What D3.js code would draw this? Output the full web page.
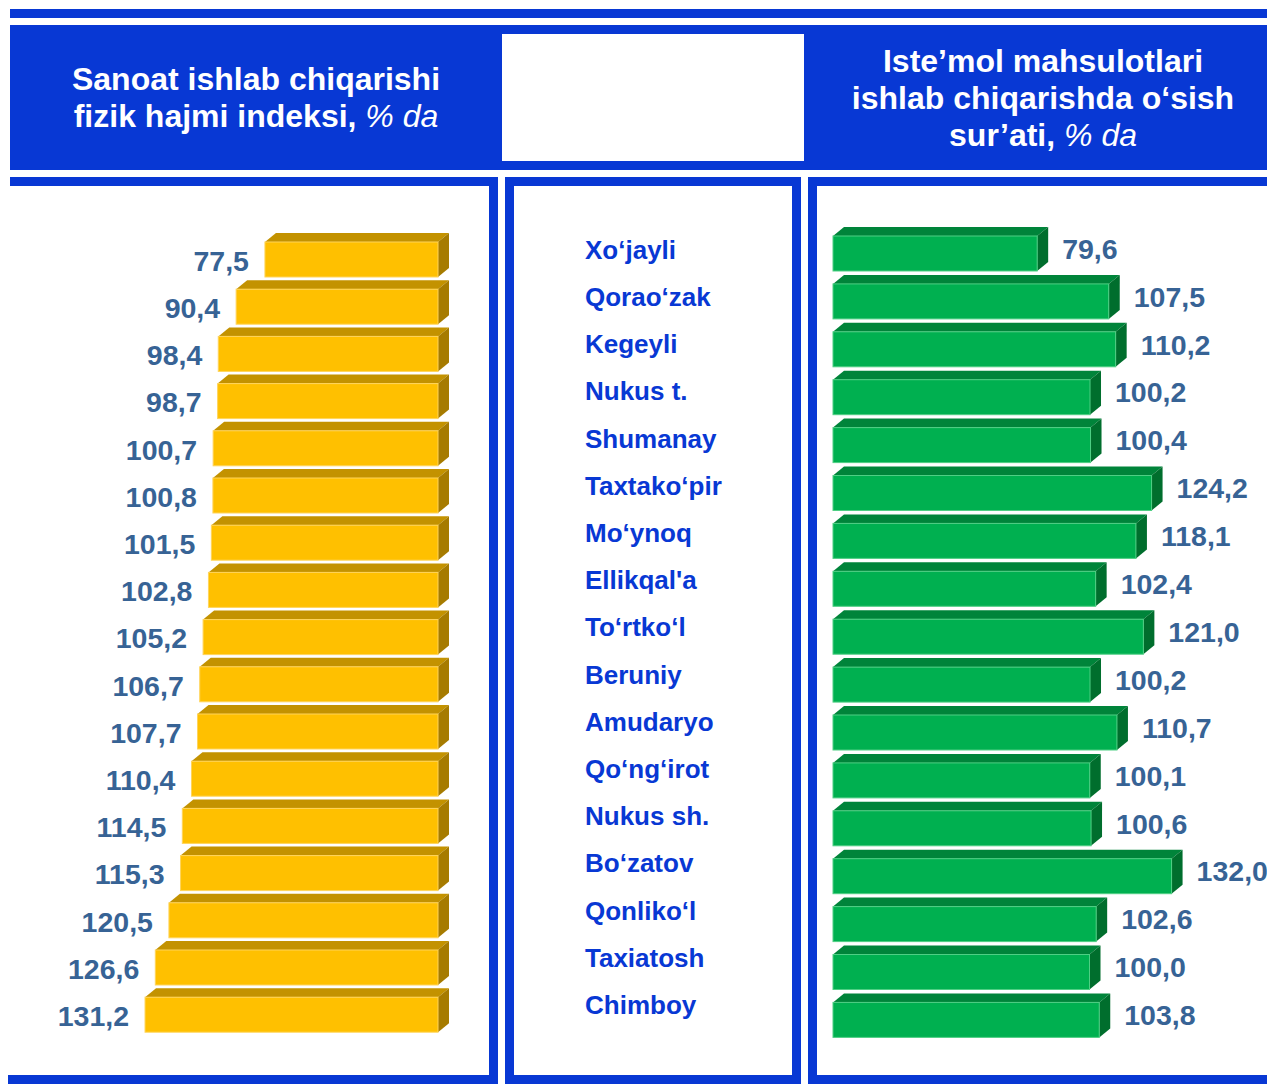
<!DOCTYPE html>
<html>
<head>
<meta charset="utf-8">
<script src="https://cdn.jsdelivr.net/npm/d3@7"></script>
<style>
  html, body { margin: 0; padding: 0; background: #ffffff; }
  svg { display: block; }
  text { font-family: "Liberation Sans", Arial, sans-serif; }
</style>
</head>
<body>
<svg id="chart" width="1267" height="1085"></svg>
<script>
// Districts (rows, top to bottom)
const districts = ["Xo‘jayli", "Qorao‘zak", "Kegeyli", "Nukus t.", "Shumanay", "Taxtako‘pir",
  "Mo‘ynoq", "Ellikqal'a", "To‘rtko‘l", "Beruniy", "Amudaryo", "Qo‘ng‘irot", "Nukus sh.",
  "Bo‘zatov", "Qonliko‘l", "Taxiatosh", "Chimboy"];

// Industrial production physical volume index, %
const industryIndex = [77.5, 90.4, 98.4, 98.7, 100.7, 100.8, 101.5, 102.8, 105.2, 106.7,
  107.7, 110.4, 114.5, 115.3, 120.5, 126.6, 131.2];

// Consumer goods production growth rate, %
const consumerGrowth = [79.6, 107.5, 110.2, 100.2, 100.4, 124.2, 118.1, 102.4, 121.0, 100.2,
  110.7, 100.1, 100.6, 132.0, 102.6, 100.0, 103.8];

// Header titles: [plain text, italic suffix] per line
const leftTitle = [["Sanoat ishlab chiqarishi", ""], ["fizik hajmi indeksi, ", "% da"]];
const rightTitle = [["Iste’mol mahsulotlari", ""], ["ishlab chiqarishda o‘sish", ""], ["sur’ati, ", "% da"]];

const BLUE = "#0838d4";
const LABEL = "#376395";
const fmt = v => d3.format(".1f")(v).replace(".", ",");

const svg = d3.select("#chart");

// ---- frame: stripes, header band, panel borders ----
const frame = svg.append("g").attr("fill", BLUE);
frame.append("rect").attr("x", 10).attr("y", 9).attr("width", 1257).attr("height", 9);
frame.append("rect").attr("x", 10).attr("y", 25).attr("width", 1257).attr("height", 145);
svg.append("rect").attr("x", 502).attr("y", 34).attr("width", 302).attr("height", 127).attr("fill", "#ffffff");

// left panel: top, right, bottom
frame.append("rect").attr("x", 10).attr("y", 177).attr("width", 488).attr("height", 9);
frame.append("rect").attr("x", 489).attr("y", 177).attr("width", 9).attr("height", 907);
frame.append("rect").attr("x", 8).attr("y", 1075).attr("width", 490).attr("height", 9);
// middle panel: four sides
frame.append("rect").attr("x", 505).attr("y", 177).attr("width", 296).attr("height", 9);
frame.append("rect").attr("x", 505).attr("y", 177).attr("width", 9).attr("height", 907);
frame.append("rect").attr("x", 792).attr("y", 177).attr("width", 9).attr("height", 907);
frame.append("rect").attr("x", 505).attr("y", 1075).attr("width", 296).attr("height", 9);
// right panel: top, left, bottom
frame.append("rect").attr("x", 808).attr("y", 177).attr("width", 459).attr("height", 9);
frame.append("rect").attr("x", 808).attr("y", 177).attr("width", 9).attr("height", 907);
frame.append("rect").attr("x", 808).attr("y", 1075).attr("width", 459).attr("height", 9);

// ---- header titles ----
function drawTitle(lines, cx, y0, lh) {
  const t = svg.append("text").attr("text-anchor", "middle").attr("fill", "#ffffff")
    .attr("font-size", 32).attr("font-weight", "bold");
  lines.forEach((ln, i) => {
    const row = t.append("tspan").attr("x", cx).attr("y", y0 + i * lh);
    row.text(ln[0]);
    if (ln[1]) {
      t.append("tspan").attr("font-style", "italic").attr("font-weight", "normal").text(ln[1]);
    }
  });
}
drawTitle(leftTitle, 256, 90, 37);
drawTitle(rightTitle, 1043, 72, 37);

// ---- scales ----
const rows = d3.range(districts.length);
const yL = d3.scaleBand().domain(rows).range([242, 242 + 17 * 47.2]);
const yR = d3.scaleBand().domain(rows).range([236, 236 + 17 * 47.9]);
const xL = d3.scaleLinear().domain([0, 140]).range([438, 438 - 140 * 2.233]);
const xR = d3.scaleLinear().domain([0, 140]).range([833, 833 + 140 * 2.565]);

const DX = 11, DY = 9, BAR_H = 35;

// 3D bar: front face, top face and right side face
function bar3d(g, x0, x1, y0, h, c) {
  const y1 = y0 + h;
  g.append("path")
    .attr("d", `M${x0},${y0}L${x0 + DX},${y0 - DY}L${x1 + DX},${y0 - DY}L${x1},${y0}Z`)
    .attr("fill", c.top);
  g.append("path")
    .attr("d", `M${x1},${y0}L${x1 + DX},${y0 - DY}L${x1 + DX},${y1 - DY}L${x1},${y1}Z`)
    .attr("fill", c.side);
  g.append("rect").attr("x", x0).attr("y", y0).attr("width", x1 - x0).attr("height", h)
    .attr("fill", c.front).attr("stroke", c.edge).attr("stroke-width", 1);
}

const yellow = { front: "#ffc000", top: "#c39200", side: "#a67b00", edge: "#ffd45a" };
const green = { front: "#00b050", top: "#00843a", side: "#006e2d", edge: "#4fcf84" };

// ---- left chart: industrial index ----
const gL = svg.append("g");
industryIndex.forEach((v, i) => {
  bar3d(gL, xL(v), xL(0), yL(i), BAR_H, yellow);
});
gL.selectAll("text.val").data(industryIndex).join("text")
  .attr("class", "val")
  .attr("x", d => xL(d) - 16)
  .attr("y", (d, i) => yL(i) + BAR_H / 2 + 1)
  .attr("dy", "0.36em")
  .attr("text-anchor", "end")
  .attr("font-size", 28.5).attr("font-weight", "bold").attr("fill", LABEL)
  .text(fmt);

// ---- middle: district names ----
svg.append("g").selectAll("text").data(districts).join("text")
  .attr("x", 585)
  .attr("y", (d, i) => yL(i) + BAR_H / 2 - 10)
  .attr("dy", "0.36em")
  .attr("font-size", 26).attr("font-weight", "bold").attr("fill", BLUE)
  .text(d => d);

// ---- right chart: consumer goods growth ----
const gR = svg.append("g");
consumerGrowth.forEach((v, i) => {
  bar3d(gR, xR(0), xR(v), yR(i), BAR_H, green);
});
gR.selectAll("text.val").data(consumerGrowth).join("text")
  .attr("class", "val")
  .attr("x", d => xR(d) + DX + 14)
  .attr("y", (d, i) => yR(i) + BAR_H / 2 - 5)
  .attr("dy", "0.36em")
  .attr("font-size", 28.5).attr("font-weight", "bold").attr("fill", LABEL)
  .text(fmt);
</script>
</body>
</html>
